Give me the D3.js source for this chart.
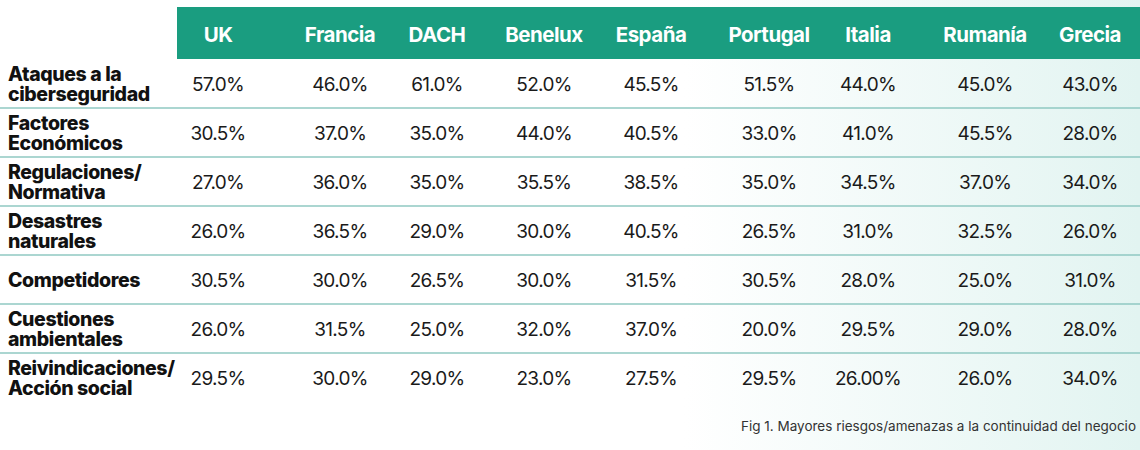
<!DOCTYPE html>
<html><head><meta charset="utf-8">
<script src="https://cdn.jsdelivr.net/npm/d3@7"></script>
<style>body{margin:0;background:#fff}svg{display:block}</style>
</head><body>
<script>
const countries = ["UK","Francia","DACH","Benelux","España","Portugal","Italia","Rumanía","Grecia"];
const risks = [["Ataques a la","ciberseguridad"],["Factores","Económicos"],["Regulaciones/","Normativa"],["Desastres","naturales"],["Competidores"],["Cuestiones","ambientales"],["Reivindicaciones/","Acción social"]];
const ataques = ["57.0%","46.0%","61.0%","52.0%","45.5%","51.5%","44.0%","45.0%","43.0%"];
const economicos = ["30.5%","37.0%","35.0%","44.0%","40.5%","33.0%","41.0%","45.5%","28.0%"];
const regulaciones = ["27.0%","36.0%","35.0%","35.5%","38.5%","35.0%","34.5%","37.0%","34.0%"];
const desastres = ["26.0%","36.5%","29.0%","30.0%","40.5%","26.5%","31.0%","32.5%","26.0%"];
const competidores = ["30.5%","30.0%","26.5%","30.0%","31.5%","30.5%","28.0%","25.0%","31.0%"];
const ambientales = ["26.0%","31.5%","25.0%","32.0%","37.0%","20.0%","29.5%","29.0%","28.0%"];
const social = ["29.5%","30.0%","29.0%","23.0%","27.5%","29.5%","26.00%","26.0%","34.0%"];
const caption = "Fig 1. Mayores riesgos/amenazas a la continuidad del negocio";
const values = [ataques,economicos,regulaciones,desastres,competidores,ambientales,social];

const W=1140,H=450;
const colCenters=[218,340,437,544,651,769,868,985,1090];
const svg=d3.select("body").append("svg").attr("width",W).attr("height",H);
const defs=svg.append("defs");
const g=defs.append("linearGradient").attr("id","bg").attr("x1","0").attr("x2","1").attr("y1","0").attr("y2","0");
g.append("stop").attr("offset","0").attr("stop-color","#ffffff");
g.append("stop").attr("offset","0.6").attr("stop-color","#ffffff");
g.append("stop").attr("offset","1").attr("stop-color","#e2f4f1");
svg.append("rect").attr("width",W).attr("height",H).attr("fill","url(#bg)");

const x=d3.scaleOrdinal().domain(countries).range(colCenters);
const y=d3.scaleBand().domain(d3.range(risks.length)).range([59,402]);

svg.append("rect").attr("x",177).attr("y",7).attr("width",W-177).attr("height",52).attr("fill","#1a9d80");
svg.selectAll("text.h").data(countries).join("text").attr("class","h")
 .attr("x",d=>x(d)).attr("y",34).attr("text-anchor","middle").attr("dominant-baseline","central")
 .attr("fill","#fff").attr("font-family","Inter, sans-serif").attr("font-weight",700).attr("font-size",20.5).attr("letter-spacing",-0.5).text(d=>d);

svg.selectAll("line.sep").data(d3.range(1,risks.length)).join("line").attr("class","sep")
 .attr("x1",0).attr("x2",W).attr("y1",d=>y(d)).attr("y2",d=>y(d)).attr("stroke","#8fc8c2").attr("stroke-width",1.5);

risks.forEach((lines,i)=>{
  const cy=y(i)+y.bandwidth()/2;
  const t=svg.append("text").attr("x",8).attr("font-family","Inter, sans-serif").attr("font-weight",800).attr("font-size",19.5).attr("fill","#111").attr("letter-spacing",-0.4);
  lines.forEach((l,k)=>t.append("tspan").attr("x",8).attr("y",cy+7+(k-(lines.length-1)/2)*20).text(l));
  svg.selectAll(null).data(values[i]).join("text")
   .attr("x",(d,j)=>x(countries[j])).attr("y",cy+7).attr("text-anchor","middle")
   .attr("font-family","Inter, sans-serif").attr("font-size",19).attr("fill","#1a1a1a").attr("letter-spacing",-0.7).text(d=>d);
});
svg.append("text").attr("x",1136).attr("y",431).attr("text-anchor","end").attr("font-family","Inter, sans-serif").attr("font-size",13.5).attr("fill","#333").text(caption);
</script>
</body></html>
